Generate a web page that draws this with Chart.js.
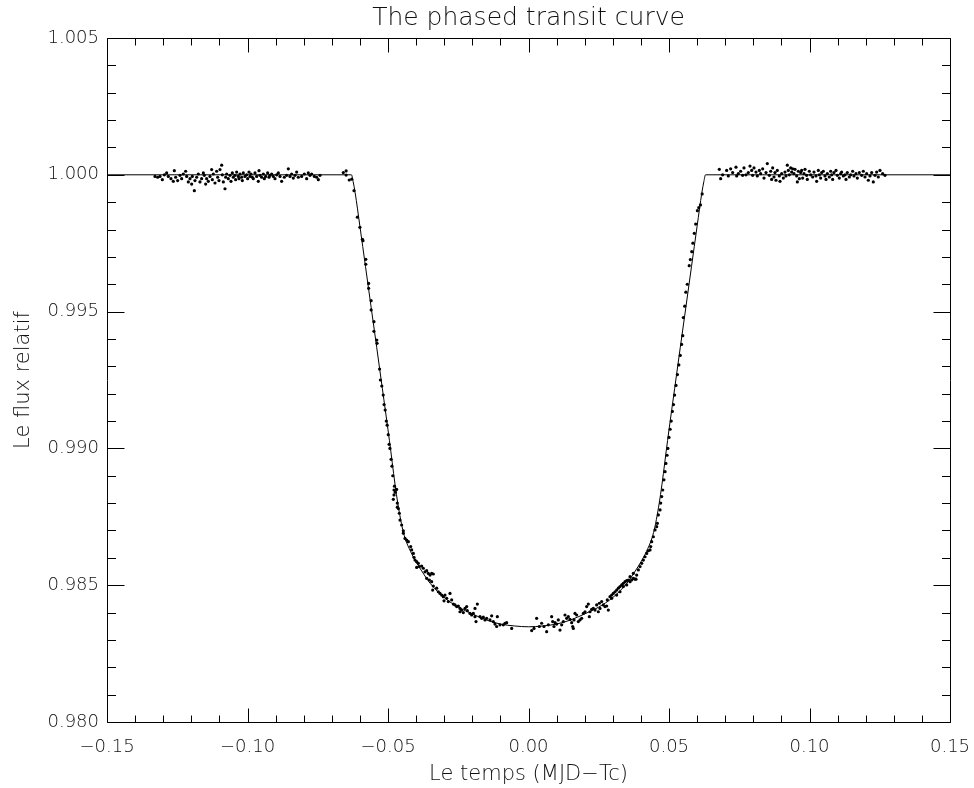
<!DOCTYPE html>
<html>
<head>
<meta charset="utf-8">
<script src="https://cdn.jsdelivr.net/npm/chart.js@4/dist/chart.umd.min.js"></script>
<style>
  html, body { margin: 0; padding: 0; background: #fff; }
  #wrap { width: 974px; height: 788px; }
</style>
</head>
<body>
<div id="wrap"><canvas id="c" width="974" height="788"></canvas></div>
<script>
// ---------- Data ----------
const chartTitle = "The phased transit curve";
const xAxisTitle = "Le temps (MJD\u2212Tc)";
const yAxisTitle = "Le flux relatif";

// Fitted transit model (line)
const modelTime = [-0.1500, -0.0630, -0.0624, -0.0617, -0.0600, -0.0580, -0.0560, -0.0540, -0.0520, -0.0500,
  -0.0490, -0.0480, -0.0470, -0.0460, -0.0450, -0.0440, -0.0420, -0.0400, -0.0380, -0.0350, -0.0300,
  -0.0250, -0.0200, -0.0150, -0.0100, -0.0050, 0.0000, 0.0050, 0.0100, 0.0150, 0.0200, 0.0250, 0.0300,
  0.0350, 0.0380, 0.0400, 0.0420, 0.0440, 0.0450, 0.0460, 0.0470, 0.0480, 0.0490, 0.0500, 0.0520,
  0.0540, 0.0560, 0.0580, 0.0600, 0.0617, 0.0624, 0.0630, 0.1500];
const modelFlux = [1.00000, 1.00000, 0.99975, 0.99935, 0.99812, 0.99664, 0.99516, 0.99368, 0.99218, 0.99068,
  0.98990, 0.98908, 0.98832, 0.98768, 0.98714, 0.98674, 0.98624, 0.98585, 0.98552, 0.98507, 0.98455,
  0.98420, 0.98395, 0.98373, 0.98358, 0.98351, 0.98348, 0.98351, 0.98358, 0.98373, 0.98395, 0.98420, 0.98455,
  0.98507, 0.98552, 0.98585, 0.98624, 0.98674, 0.98714, 0.98768, 0.98832, 0.98908, 0.98990, 0.99068, 0.99218,
  0.99368, 0.99516, 0.99664, 0.99812, 0.99935, 0.99975, 1.00000, 1.00000];

// Observations before transit
const preTime = [-0.13292,-0.13197,-0.13114,-0.13031,-0.12960,-0.12877,-0.12818,-0.12723,-0.12640,-0.12604,
  -0.12557,-0.12486,-0.12403,-0.12343,-0.12284,-0.12201,-0.12165,-0.12106,-0.12047,-0.11987,-0.11964,-0.11892,
  -0.11869,-0.11809,-0.11750,-0.11691,-0.11632,-0.11572,-0.11537,-0.11489,-0.11454,-0.11394,-0.11335,-0.11276,
  -0.11252,-0.11216,-0.11157,-0.11098,-0.11062,-0.11015,-0.10979,-0.10920,-0.10896,-0.10860,-0.10801,-0.10777,
  -0.10742,-0.10683,-0.10623,-0.10588,-0.10540,-0.10505,-0.10445,-0.10422,-0.10386,-0.10327,-0.10303,-0.10267,
  -0.10208,-0.10184,-0.10149,-0.10089,-0.10030,-0.09994,-0.09947,-0.09911,-0.09876,-0.09828,-0.09793,-0.09733,
  -0.09674,-0.09615,-0.09591,-0.09556,-0.09496,-0.09437,-0.09401,-0.09354,-0.09283,-0.09235,-0.09200,-0.09140,
  -0.09081,-0.09022,-0.08962,-0.08903,-0.08844,-0.08785,-0.08690,-0.08607,-0.08547,-0.08488,-0.08429,-0.08370,
  -0.08310,-0.08251,-0.08192,-0.08073,-0.07978,-0.07895,-0.07836,-0.07776,-0.07717,-0.07622,-0.07539,-0.07480,
  -0.07420];
const preFlux = [0.99994,0.99991,0.99994,0.99982,1.00000,1.00007,0.99994,0.99986,0.99976,1.00015,
  0.99991,0.99979,0.99998,0.99986,1.00003,1.00013,0.99994,0.99974,0.99986,0.99966,0.99994,0.99942,
  0.99979,0.99991,1.00003,0.99974,0.99986,1.00007,0.99998,0.99966,0.99986,0.99976,0.99994,1.00019,
  0.99982,1.00003,0.99970,1.00013,0.99991,0.99979,1.00019,1.00035,1.00000,0.99974,0.99949,0.99991,
  1.00003,0.99986,0.99998,0.99976,1.00007,0.99991,0.99998,0.99982,1.00010,0.99994,0.99986,1.00003,
  0.99991,0.99979,1.00007,0.99994,1.00000,0.99986,1.00010,0.99994,1.00003,0.99991,0.99986,1.00007,
  0.99994,0.99976,1.00015,0.99998,0.99991,1.00003,0.99986,0.99994,1.00007,0.99991,0.99998,1.00003,
  0.99994,0.99986,1.00000,1.00007,0.99994,0.99976,0.99991,0.99998,1.00022,0.99994,1.00003,0.99988,
  0.99998,1.00010,0.99991,0.99994,1.00003,0.99986,1.00007,0.99998,1.00003,0.99994,0.99991,0.99982,
  0.99998];

// Observations during ingress
const ingressTime = [-0.0659,-0.0649,-0.0649,-0.0638,-0.0629,-0.0621,-0.0609,-0.0600,-0.0591,-0.0589,
  -0.0579,-0.0579,-0.0569,-0.0569,-0.0560,-0.0560,-0.0550,-0.0550,-0.0540,-0.0539,-0.0530,-0.0527,
  -0.0522,-0.0517,-0.0514,-0.0510,-0.0506,-0.0503,-0.0499,-0.0496,-0.0493,-0.0489,-0.0486,-0.0483,
  -0.0477,-0.0474,-0.0467,-0.0463];
const ingressFlux = [1.00008,1.00014,0.99999,0.99981,0.99984,0.99942,0.99845,0.99808,0.99764,0.99759,
  0.99691,0.99673,0.99603,0.99585,0.99540,0.99506,0.99463,0.99428,0.99396,0.99384,0.99290,0.99250,
  0.99228,0.99195,0.99160,0.99140,0.99100,0.99085,0.99050,0.99015,0.99000,0.98960,0.98935,0.98900,
  0.98862,0.98840,0.98800,0.98780];

// Observations at the bottom of the transit
const bottomTime = [-0.04786,-0.04692,-0.04786,-0.04810,-0.04668,-0.04597,-0.04573,-0.04514,-0.04454,-0.04454,
  -0.04395,-0.04336,-0.04276,-0.04193,-0.04158,-0.04098,-0.04075,-0.04039,-0.03980,-0.03920,-0.03980,-0.03885,
  -0.03802,-0.03743,-0.03683,-0.03624,-0.03565,-0.03505,-0.03446,-0.03387,-0.03624,-0.03529,-0.03446,-0.03387,
  -0.03410,-0.03268,-0.03209,-0.03150,-0.03090,-0.03031,-0.02972,-0.03007,-0.02912,-0.02794,-0.02853,-0.02734,
  -0.02675,-0.02616,-0.02556,-0.02497,-0.02438,-0.02378,-0.02438,-0.02319,-0.02260,-0.02200,-0.02177,-0.02082,
  -0.02023,-0.01963,-0.01904,-0.01821,-0.01904,-0.01868,-0.01726,-0.01667,-0.01608,-0.01548,-0.01489,-0.01370,
  -0.01311,-0.01252,-0.01192,-0.01133,-0.01109,-0.01014,-0.00896,-0.00836,-0.00777,-0.00599,
  0.00113,0.00196,0.00290,0.00385,0.00468,0.00551,0.00646,0.00706,0.00824,0.00860,0.00907,0.00943,
  0.01002,0.01061,0.01121,0.01180,0.01239,0.01299,0.01358,0.01417,0.01477,0.01536,0.01572,0.01595,
  0.01619,0.01654,0.01714,0.01773,0.01833,0.01892,0.01951,0.02011,0.02070,0.02129,0.02165,0.02189,
  0.02248,0.02307,0.02367,0.02426,0.02485,0.02521,0.02544,0.02604,0.02663,0.02722,0.02782,0.02841,
  0.02805,0.02900,0.02960,0.03019,0.03078,0.03138,0.03197,0.03257,0.03316,0.03375,0.03435,0.03494,
  0.03553,0.03613,0.03672,0.03731,0.03791,0.03850,0.03909,0.03969,0.04028,0.04087,0.04147,0.04206,
  0.04265,0.04325,0.04349,0.04384,0.04443,0.04503,0.04562,0.04586,0.04621,0.04681,0.04704,0.04740,
  0.04776,0.03375,0.03494,0.03257,0.03138,0.02960,0.03613,0.03731,0.03826];
const bottomFlux = [0.98848,0.98850,0.98830,0.98814,0.98785,0.98763,0.98738,0.98720,0.98699,0.98690,
  0.98671,0.98665,0.98659,0.98641,0.98629,0.98616,0.98602,0.98592,0.98586,0.98580,0.98565,0.98568,
  0.98570,0.98562,0.98549,0.98553,0.98543,0.98537,0.98543,0.98541,0.98525,0.98519,0.98513,0.98497,
  0.98482,0.98489,0.98476,0.98470,0.98464,0.98458,0.98464,0.98443,0.98452,0.98470,0.98440,0.98446,
  0.98431,0.98428,0.98422,0.98424,0.98415,0.98409,0.98403,0.98400,0.98415,0.98422,0.98407,0.98397,
  0.98391,0.98397,0.98385,0.98431,0.98415,0.98367,0.98385,0.98379,0.98383,0.98373,0.98379,0.98373,
  0.98388,0.98367,0.98358,0.98349,0.98385,0.98355,0.98355,0.98361,0.98363,0.98342,
  0.98334,0.98342,0.98379,0.98349,0.98361,0.98349,0.98330,0.98355,0.98385,0.98367,0.98349,0.98363,
  0.98358,0.98373,0.98336,0.98355,0.98367,0.98391,0.98379,0.98385,0.98375,0.98363,0.98349,0.98342,
  0.98373,0.98397,0.98391,0.98367,0.98373,0.98379,0.98397,0.98403,0.98422,0.98431,0.98385,0.98403,
  0.98412,0.98415,0.98409,0.98428,0.98403,0.98434,0.98415,0.98440,0.98428,0.98422,0.98424,0.98409,
  0.98446,0.98458,0.98464,0.98470,0.98476,0.98482,0.98489,0.98495,0.98501,0.98507,0.98513,0.98517,
  0.98519,0.98513,0.98519,0.98525,0.98522,0.98537,0.98556,0.98568,0.98580,0.98592,0.98604,0.98616,
  0.98626,0.98629,0.98641,0.98659,0.98677,0.98702,0.98714,0.98726,0.98757,0.98775,0.98800,0.98824,
  0.98848,0.98495,0.98501,0.98476,0.98464,0.98452,0.98531,0.98543,0.98522];

// Observations during egress
const egressTime = [0.0482,0.0486,0.0489,0.0493,0.0496,0.0500,0.0504,0.0508,0.0512,0.0516,
  0.0520,0.0525,0.0530,0.0535,0.0540,0.0545,0.0549,0.0551,0.0556,0.0560,0.0565,0.0572,0.0576,
  0.0581,0.0585,0.0590,0.0595,0.0601,0.0606,0.0612,0.0618];
const egressFlux = [0.98885,0.98915,0.98945,0.98975,0.99000,0.99040,0.99070,0.99100,0.99135,0.99160,
  0.99195,0.99230,0.99270,0.99305,0.99340,0.99380,0.99412,0.99478,0.99520,0.99571,0.99600,0.99668,0.99690,
  0.99719,0.99750,0.99786,0.99820,0.99869,0.99880,0.99890,0.99930];

// Observations after transit
const postTime = [0.06791,0.06838,0.06910,0.07052,0.07111,0.07194,0.07265,0.07384,0.07408,0.07467,
  0.07550,0.07621,0.07669,0.07740,0.07823,0.07882,0.07942,0.07977,0.08025,0.08096,0.08143,0.08214,
  0.08262,0.08333,0.08381,0.08452,0.08499,0.08570,0.08618,0.08653,0.08689,0.08736,0.08772,0.08807,
  0.08855,0.08926,0.08950,0.09009,0.09069,0.09128,0.09163,0.09211,0.09246,0.09282,0.09329,0.09365,
  0.09401,0.09448,0.09484,0.09543,0.09567,0.09602,0.09638,0.09685,0.09721,0.09756,0.09804,0.09840,
  0.09899,0.09923,0.09994,0.10041,0.10112,0.10160,0.10231,0.10255,0.10314,0.10350,0.10397,0.10433,
  0.10492,0.10551,0.10587,0.10634,0.10705,0.10753,0.10788,0.10824,0.10871,0.10943,0.10990,0.11061,
  0.11109,0.11144,0.11204,0.11263,0.11299,0.11346,0.11417,0.11465,0.11536,0.11583,0.11654,0.11702,
  0.11773,0.11856,0.11915,0.11975,0.12034,0.12093,0.12153,0.12212,0.12271,0.12331,0.12390,0.12449,
  0.12508,0.12603,0.12686];
const postFlux = [1.00020,0.99986,1.00000,1.00016,0.99996,1.00022,1.00008,1.00028,0.99996,1.00004,
  1.00013,0.99998,1.00025,1.00000,1.00008,1.00032,1.00016,0.99998,1.00025,1.00010,0.99996,1.00016,
  1.00004,1.00022,0.99988,1.00008,1.00041,0.99998,1.00013,0.99983,1.00025,0.99992,1.00008,0.99980,
  1.00016,0.99996,0.99976,1.00004,0.99988,1.00010,0.99996,1.00035,1.00016,1.00000,1.00025,1.00010,
  1.00022,1.00004,1.00020,0.99996,0.99974,1.00013,0.99986,1.00008,1.00016,0.99988,1.00004,1.00020,
  0.99998,0.99983,1.00013,1.00000,0.99992,1.00010,0.99996,0.99976,1.00016,1.00000,0.99988,1.00008,
  1.00013,0.99996,0.99983,1.00004,0.99992,1.00013,1.00000,0.99983,1.00008,1.00016,0.99998,0.99988,
  1.00004,1.00010,0.99996,1.00000,0.99983,1.00008,0.99992,1.00000,1.00013,0.99996,1.00004,0.99988,
  1.00008,0.99998,1.00013,0.99992,1.00004,0.99980,0.99996,1.00008,0.99974,0.99998,1.00010,0.99992,
  1.00016,1.00004,0.99998];

// Axis ranges and tick spacing
const xRange = [-0.15, 0.15];
const yRange = [0.980, 1.005];
const xMajorStep = 0.05, xMinorStep = 0.01;
const yMajorStep = 0.005, yMinorStep = 0.001;

// ---------- Build datasets ----------
const toPts = (t, f) => t.map((v, i) => ({ x: v, y: f[i] }));
const observed = [].concat(
  toPts(preTime, preFlux), toPts(ingressTime, ingressFlux), toPts(bottomTime, bottomFlux),
  toPts(egressTime, egressFlux), toPts(postTime, postFlux));
const model = toPts(modelTime, modelFlux);

const FONT = "'DejaVu Sans', 'Liberation Sans', sans-serif";
const fmtMinus = (s) => s.replace('-', '\u2212');

// IDL-style frame with inward ticks on all four sides
const idlFrame = {
  id: 'idlFrame',
  afterDatasetsDraw(chart) {
    const { ctx, chartArea: a, scales: { x, y } } = chart;
    ctx.save();
    ctx.strokeStyle = '#000';
    ctx.lineWidth = 1;
    ctx.beginPath();
    const L = Math.round(a.left) + 0.5, R = Math.round(a.right) + 0.5;
    const T = Math.round(a.top) + 0.5, B = Math.round(a.bottom) + 0.5;
    ctx.rect(L, T, R - L, B - T);
    const nx = Math.round((xRange[1] - xRange[0]) / xMinorStep);
    const perX = Math.round(xMajorStep / xMinorStep);
    for (let i = 0; i <= nx; i++) {
      const p = Math.round(x.getPixelForValue(xRange[0] + i * xMinorStep)) + 0.5;
      const len = (i % perX === 0) ? 14 : 7;
      ctx.moveTo(p, B); ctx.lineTo(p, B - len);
      ctx.moveTo(p, T); ctx.lineTo(p, T + len);
    }
    const ny = Math.round((yRange[1] - yRange[0]) / yMinorStep);
    const perY = Math.round(yMajorStep / yMinorStep);
    for (let i = 0; i <= ny; i++) {
      const p = Math.round(y.getPixelForValue(yRange[0] + i * yMinorStep)) + 0.5;
      const len = (i % perY === 0) ? 17 : 8.5;
      ctx.moveTo(L, p); ctx.lineTo(L + len, p);
      ctx.moveTo(R, p); ctx.lineTo(R - len, p);
    }
    ctx.stroke();
    ctx.restore();
  }
};

new Chart(document.getElementById('c'), {
  type: 'scatter',
  data: {
    datasets: [
      {
        type: 'line',
        label: 'model',
        data: model,
        borderColor: '#000',
        borderWidth: 1,
        pointRadius: 0,
        fill: false,
        cubicInterpolationMode: 'monotone'
      },
      {
        label: 'data',
        data: observed,
        pointRadius: 1.6,
        pointBackgroundColor: '#000',
        pointBorderWidth: 0,
        pointHoverRadius: 1.6
      }
    ]
  },
  options: {
    responsive: false,
    animation: false,
    devicePixelRatio: 1,
    layout: { padding: { left: 0, right: 24, top: 0, bottom: 0 } },
    plugins: {
      legend: { display: false },
      tooltip: { enabled: false },
      title: {
        display: true,
        fullSize: false,
        text: chartTitle,
        color: '#111',
        font: { family: FONT, size: 25, weight: '200' },
        padding: { top: 3, bottom: 5 }
      }
    },
    scales: {
      x: {
        type: 'linear',
        min: xRange[0], max: xRange[1],
        grid: { display: false, drawTicks: false },
        border: { display: false },
        ticks: {
          stepSize: xMajorStep,
          color: '#111',
          padding: 15,
          maxRotation: 0,
          autoSkip: false,
          font: { family: FONT, size: 18, weight: '200' },
          callback: (v) => fmtMinus(Number(v).toFixed(2))
        },
        title: {
          display: true,
          text: xAxisTitle,
          color: '#111',
          font: { family: FONT, size: 21, weight: '200' },
          padding: { top: 0, bottom: 1 }
        },
        afterFit: (s) => { s.height = 66; s.paddingLeft = 0; s.paddingRight = 0; }
      },
      y: {
        type: 'linear',
        min: yRange[0], max: yRange[1],
        grid: { display: false, drawTicks: false },
        border: { display: false },
        ticks: {
          stepSize: yMajorStep,
          color: '#111',
          padding: 8,
          autoSkip: false,
          font: { family: FONT, size: 18, weight: '200' },
          callback: (v) => Number(v).toFixed(3)
        },
        title: {
          display: true,
          text: yAxisTitle,
          color: '#111',
          font: { family: FONT, size: 21, weight: '200' },
          padding: { top: 11, bottom: 0 }
        },
        afterFit: (s) => { s.width = 107; s.paddingTop = 0; s.paddingBottom = 0; }
      }
    }
  },
  plugins: [idlFrame]
});
</script>
</body>
</html>
